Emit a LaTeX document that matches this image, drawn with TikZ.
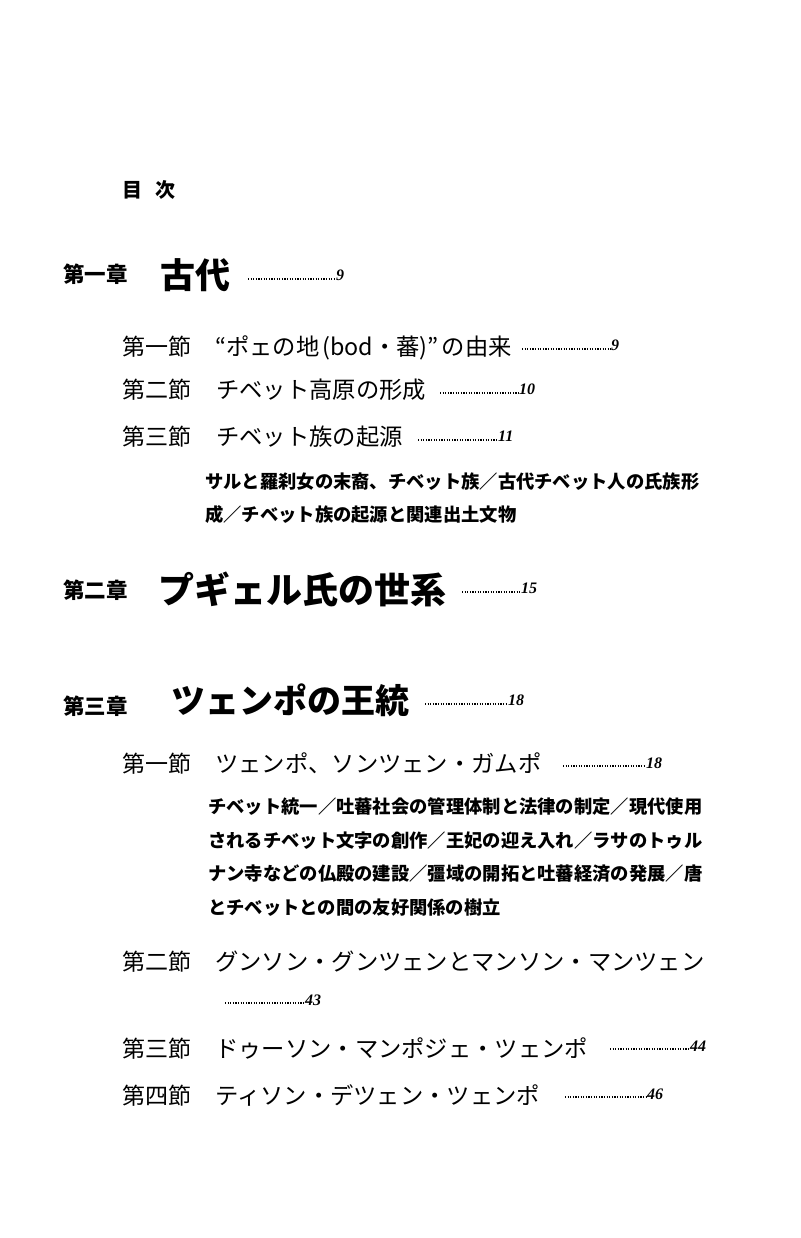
\documentclass[tikz,border=0pt]{standalone}
\usepackage{fontspec}
\setmainfont{Liberation Serif}
\newfontfamily\jp{Noto Sans CJK JP}
\begin{document}
\begin{tikzpicture}[x=1pt,y=-1pt,
  every node/.style={inner sep=0pt,anchor=base west},
  toc/.style={font=\jp\bfseries\fontsize{20}{20}\selectfont},
  chlab/.style={font=\jp\bfseries\fontsize{21.5}{21.5}\selectfont},
  chtitle/.style={font=\jp\bfseries\fontsize{#1}{#1}\selectfont},
  seclab/.style={font=\jp\fontsize{23}{23}\selectfont},
  sectitle/.style={font=\jp\fontsize{23.3}{23.3}\selectfont},
  desc/.style={font=\jp\bfseries\fontsize{18.3}{18.3}\selectfont},
  num/.style={font=\bfseries\itshape\fontsize{16}{16}\selectfont},
  leader/.style={line width=1.3pt,dash pattern=on 1.1pt off 1.5pt}]
\fill[white] (0,0) rectangle (800,1238);
\useasboundingbox (0,0) rectangle (800,1238);

\node[toc] (toc) at (122,198) {目\hspace{13pt}次};

% Chapter 1
\node[chlab] (c1) at (63,283) {第一章};
\node[chtitle=35] (c1t) at (160,289) {古代};
\node[num] (c1n) at (336,280) {9};
\coordinate (c1d) at (248,279);
\draw[leader] (c1d) -- (c1d -| c1n.base west);

\node[seclab] (s11) at (122,355) {第一節};
\node[sectitle] (s11t) at (215,355) {“ポェの地\hspace{3pt}(bod・蕃)”\hspace{3pt}の由来};
\node[num] (s11n) at (611,350) {9};
\coordinate (s11d) at (522,349);
\draw[leader] (s11d) -- (s11d -| s11n.base west);

\node[seclab] (s12) at (122,398) {第二節};
\node[sectitle] (s12t) at (216,398) {チベット高原の形成};
\node[num] (s12n) at (519,394) {10};
\coordinate (s12d) at (440,393);
\draw[leader] (s12d) -- (s12d -| s12n.base west);

\node[seclab] (s13) at (122,445) {第三節};
\node[sectitle] (s13t) at (216,445) {チベット族の起源};
\node[num] (s13n) at (498,441) {11};
\coordinate (s13d) at (418,440);
\draw[leader] (s13d) -- (s13d -| s13n.base west);

\node[desc] (s13a) at (205,488) {サルと羅刹女の末裔、チベット族／古代チベット人の氏族形};
\node[desc] (s13b) at (205,521) {成／チベット族の起源と関連出土文物};

% Chapter 2
\node[chlab] (c2) at (63,598) {第二章};
\node[chtitle=36] (c2t) at (158,603) {プギェル氏の世系};
\node[num] (c2n) at (521,593) {15};
\coordinate (c2d) at (462,592);
\draw[leader] (c2d) -- (c2d -| c2n.base west);

% Chapter 3
\node[chlab] (c3) at (63,714) {第三章};
\node[chtitle=34] (c3t) at (171,713) {ツェンポの王統};
\node[num] (c3n) at (508,705) {18};
\coordinate (c3d) at (425,704);
\draw[leader] (c3d) -- (c3d -| c3n.base west);

\node[seclab] (s31) at (122,772) {第一節};
\node[sectitle] (s31t) at (215,772) {ツェンポ、ソンツェン・ガムポ};
\node[num] (s31n) at (646,768) {18};
\coordinate (s31d) at (563,766);
\draw[leader] (s31d) -- (s31d -| s31n.base west);

\node[desc] (s31a) at (208,813) {チベット統一／吐蕃社会の管理体制と法律の制定／現代使用};
\node[desc] (s31b) at (208,847) {されるチベット文字の創作／王妃の迎え入れ／ラサのトゥル};
\node[desc] (s31c) at (208,880) {ナン寺などの仏殿の建設／彊域の開拓と吐蕃経済の発展／唐};
\node[desc] (s31e) at (208,914) {とチベットとの間の友好関係の樹立};

\node[seclab] (s32) at (122,970) {第二節};
\node[sectitle] (s32t) at (215,970) {グンソン・グンツェンとマンソン・マンツェン};
\node[num] (s32n) at (305,1005) {43};
\coordinate (s32d) at (225,1003);
\draw[leader] (s32d) -- (s32d -| s32n.base west);

\node[seclab] (s33) at (122,1057) {第三節};
\node[sectitle] (s33t) at (215,1057) {ドゥーソン・マンポジェ・ツェンポ};
\node[num] (s33n) at (690,1051) {44};
\coordinate (s33d) at (610,1049);
\draw[leader] (s33d) -- (s33d -| s33n.base west);

\node[seclab] (s34) at (122,1104) {第四節};
\node[sectitle] (s34t) at (215,1104) {ティソン・デツェン・ツェンポ};
\node[num] (s34n) at (647,1099) {46};
\coordinate (s34d) at (565,1097);
\draw[leader] (s34d) -- (s34d -| s34n.base west);
\end{tikzpicture}
\end{document}
